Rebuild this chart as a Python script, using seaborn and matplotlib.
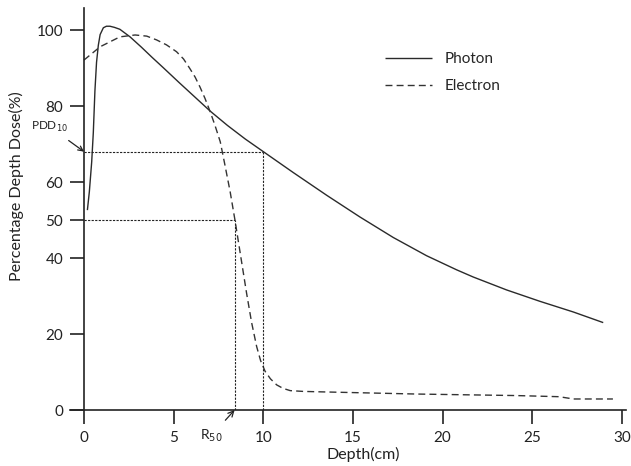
import numpy as np
import pandas as pd
import seaborn as sns
import matplotlib.pyplot as plt

# depth dose curves
photon_depth = [0.19, 0.3, 0.43, 0.52, 0.61, 0.7, 0.8, 0.9, 1.08, 1.25, 1.45,
                1.7, 2.0, 2.57, 3.2, 3.8, 4.42, 5.3, 6.2, 7.03, 8.0, 9.0, 10.0,
                11.67, 13.54, 15.39, 17.25, 19.11, 20.78, 21.71, 23.57, 25.43,
                27.29, 28.96]
photon_dose = [52.6, 57.5, 65.3, 73, 84, 91.5, 96, 98.8, 100.6, 101, 101,
               100.7, 100.2, 98.2, 95.5, 92.8, 90.1, 86.2, 82.3, 78.7, 74.9, 71.3, 68.0,
               62.5, 56.5, 50.8, 45.4, 40.6, 36.9, 35.0, 31.6, 28.6,
               25.8, 23.0]

electron_depth = [0.0, 0.9, 2.0, 2.85, 3.5, 4.05, 4.6, 5.16, 5.55, 5.9, 6.2,
                  6.47, 6.75, 7.03, 7.3, 7.6, 7.86, 8.15, 8.42, 8.75, 9.07,
                  9.35, 9.63, 9.85, 10.1, 10.4, 10.75, 11.1, 11.5, 12.2, 13.0,
                  18.55, 24.1, 26.5, 27.3, 29.5]
electron_dose = [92.1, 95.6, 98.2, 98.7, 98.4, 97.4, 96.1, 94.3, 92.4, 89.9, 87.6,
                 85.0, 82.0, 78.6, 75.0, 70.6, 64.5, 57.5, 50.0, 40.2, 30.7,
                 23.0, 16.7, 13.0, 10.2, 8.2, 6.6, 5.7, 5.1, 4.9, 4.8,
                 4.2, 3.8, 3.5, 2.9, 2.9]

pdd10 = 68
r50 = 8.45

df = pd.concat([
    pd.DataFrame({"Depth": photon_depth, "Dose": photon_dose, "Beam": "Photon"}),
    pd.DataFrame({"Depth": electron_depth, "Dose": electron_dose, "Beam": "Electron"}),
])

sns.set_style("ticks")
plt.rcParams["font.family"] = ["Lato", "DejaVu Sans"]

fig = plt.figure(figsize=(6.31, 4.66), dpi=100)
ax = fig.add_axes([70 / 631, 56 / 466, 556 / 631, 402 / 466])

sns.lineplot(data=df, x="Depth", y="Dose", hue="Beam", style="Beam",
             palette=["#2a2a2a", "#333333"], dashes=[(1, 0), (5, 3)],
             linewidth=1.0, ax=ax, sort=False)

# reference lines for PDD10 and R50
ls = dict(color="#222222", lw=0.8, ls=(0, (2, 1.2)))
ax.plot([0, 10], [pdd10, pdd10], **ls)
ax.plot([10, 10], [0, pdd10], **ls)
ax.plot([0, r50], [50, 50], **ls)
ax.plot([r50, r50], [0, 50], **ls)

ax.annotate("PDD$_{10}$", xy=(0, pdd10), xytext=(-1.9, 74.5),
            ha="center", va="center", fontsize=8.5, color="#222222",
            annotation_clip=False,
            arrowprops=dict(arrowstyle="->", color="#222222", lw=0.9,
                            shrinkA=4, shrinkB=0))
ax.annotate("R$_{50}$", xy=(r50 - 0.05, 0), xytext=(7.1, -6.8),
            ha="center", va="center", fontsize=10, color="#222222",
            annotation_clip=False,
            arrowprops=dict(arrowstyle="->", color="#222222", lw=0.9,
                            shrinkA=4, shrinkB=0))

ax.set_xlim(-0.78, 30.23)
ax.set_ylim(0, 105.8)
ax.spines["left"].set_position(("data", 0))
ax.spines["right"].set_visible(False)
ax.spines["top"].set_visible(False)
for s in ["left", "bottom"]:
    ax.spines[s].set_linewidth(1.2)
    ax.spines[s].set_color("#222222")

ax.set_xticks([0, 5, 10, 15, 20, 25, 30])
ax.set_yticks([0, 20, 40, 50, 60, 80, 100])
ax.tick_params(axis="both", which="major", direction="out", bottom=True,
               left=True, length=10, width=1.2, color="#222222",
               labelsize=11, labelcolor="#222222", pad=5)

ax.set_xlabel("Depth(cm)", fontsize=11.5, color="#222222")
ax.set_ylabel("Percentage Depth Dose(%)", fontsize=11.5, color="#222222")
ax.xaxis.set_label_coords(0.528, -0.092)
ax.yaxis.set_label_coords(-0.082, 0.556)

ax.legend(loc="upper left", bbox_to_anchor=(0.541, 0.925), frameon=False,
          fontsize=11, handlelength=3.1, labelspacing=0.85, title=None)

fig.savefig("out.png", dpi=100)
